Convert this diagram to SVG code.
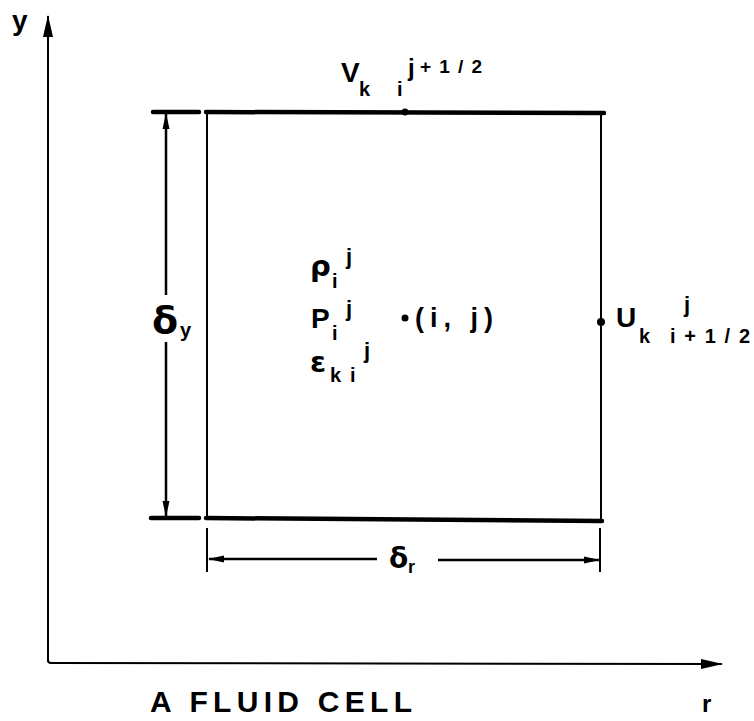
<svg xmlns="http://www.w3.org/2000/svg" width="754" height="721" viewBox="0 0 754 721">
<style>
  .t { font-family: "Liberation Sans", "DejaVu Sans", sans-serif; font-weight: bold; fill: #000; }
  .g { font-family: "DejaVu Sans", "Liberation Sans", sans-serif; font-weight: bold; fill: #000; }
  .thin { stroke: #000; stroke-width: 2; fill: none; }
  .thick { stroke: #000; stroke-width: 4.5; fill: none; stroke-linecap: round; }
  .dim { stroke: #000; stroke-width: 2.5; fill: none; }
</style>
<defs>
  <marker id="arr" viewBox="0 0 16 10" refX="15" refY="5" markerWidth="16" markerHeight="10" markerUnits="userSpaceOnUse" orient="auto">
    <path d="M0,1.5 L16,5 L0,8.5 Z" fill="#000"/>
  </marker>
  <marker id="arrAxis" viewBox="0 0 22 12" refX="21" refY="6" markerWidth="22" markerHeight="12" markerUnits="userSpaceOnUse" orient="auto">
    <path d="M0,1 L22,6 L0,11 Z" fill="#000"/>
  </marker>
</defs>
<rect width="754" height="721" fill="#fff"/>

<g id="connectors">
  <!-- axes -->
  <path class="thin" d="M48,662 L48,16" stroke-width="2.5" marker-end="url(#arrAxis)"/>
  <path class="thin" d="M48,660 Q48,663 51,663 L722,664" stroke-width="3" marker-end="url(#arrAxis)"/>
  <!-- delta y dimension -->
  <line class="thick" x1="153" y1="112" x2="199" y2="112"/>
  <line class="thick" x1="151" y1="518" x2="199" y2="518"/>
  <path class="dim" d="M166,295 L166,114" marker-end="url(#arr)"/>
  <path class="dim" d="M166,342 L166,516" marker-end="url(#arr)"/>
  <!-- delta r dimension -->
  <line class="thin" x1="207" y1="528" x2="207" y2="572"/>
  <line class="thin" x1="600" y1="528" x2="600" y2="572"/>
  <path class="dim" d="M377,559 L209,559" stroke-width="3" marker-end="url(#arr)"/>
  <path class="dim" d="M438,560 L599,560" stroke-width="3" marker-end="url(#arr)"/>
</g>

<g id="cell">
  <line class="thick" x1="206" y1="112" x2="604" y2="113"/>
  <line class="thick" x1="206" y1="518" x2="602" y2="521"/>
  <line class="thin" x1="207" y1="113" x2="207" y2="518"/>
  <line class="thin" x1="601" y1="113" x2="601" y2="521"/>
  <circle cx="405" cy="112" r="3.5" fill="#000"/>
  <circle cx="601" cy="322" r="4" fill="#000"/>
  <circle cx="405" cy="318" r="3.5" fill="#000"/>
</g>

<g id="axis-labels">
  <text class="t" x="12" y="30" font-size="28">y</text>
  <text class="t" x="702" y="712" font-size="24">r</text>
  <text class="t" x="150" y="712" font-size="30" textLength="262" lengthAdjust="spacing">A FLUID CELL</text>
</g>

<g id="label-v">
  <text class="t" x="341" y="82" font-size="28">V</text>
  <text class="t" x="359" y="96" font-size="20">k</text>
  <text class="t" x="397" y="96" font-size="20">i</text>
  <text class="t" x="408" y="76" font-size="24">j</text>
  <text class="t" x="420" y="73" font-size="19" textLength="62" lengthAdjust="spacing">+1/2</text>
</g>

<g id="label-center">
  <text class="g" x="310" y="276" font-size="29">ρ</text>
  <text class="t" x="332" y="288" font-size="20">i</text>
  <text class="t" x="346" y="264" font-size="22">j</text>
  <text class="t" x="311" y="328" font-size="28">P</text>
  <text class="t" x="332" y="340" font-size="20">i</text>
  <text class="t" x="346" y="316" font-size="22">j</text>
  <text class="g" x="310" y="372" font-size="29">ε</text>
  <text class="t" x="330" y="382" font-size="20">k</text>
  <text class="t" x="350" y="382" font-size="20">i</text>
  <text class="t" x="364" y="358" font-size="22">j</text>
  <text class="t" x="415" y="327" font-size="27" textLength="78" lengthAdjust="spacing">(i, j)</text>
</g>

<g id="label-u">
  <text class="t" x="616" y="327" font-size="28">U</text>
  <text class="t" x="639" y="343" font-size="20">k</text>
  <text class="t" x="684" y="312" font-size="22">j</text>
  <text class="t" x="670" y="343" font-size="20" textLength="80" lengthAdjust="spacing">i+1/2</text>
</g>

<g id="dim-labels">
  <text class="g" x="152" y="333" font-size="38">δ</text>
  <text class="t" x="180" y="337" font-size="20">y</text>
  <text class="g" x="389" y="568" font-size="28">δ</text>
  <text class="t" x="408" y="573" font-size="18">r</text>
</g>
</svg>
